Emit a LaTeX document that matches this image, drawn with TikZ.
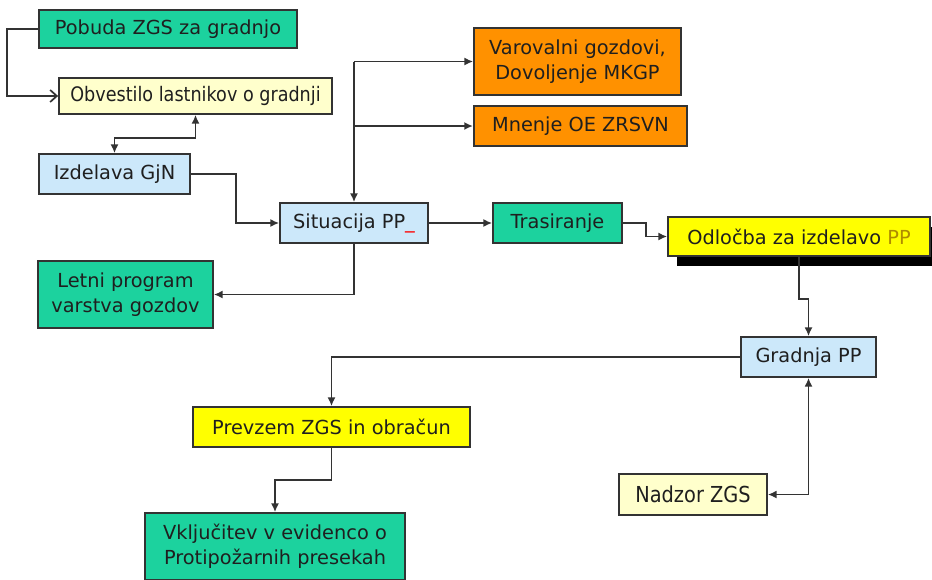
\documentclass[tikz,border=0pt]{standalone}
\usepackage{fontspec}
\setmainfont{DejaVu Sans}
\newfontfamily\narrowfont[FakeStretch=0.88]{DejaVu Sans}
\usetikzlibrary{arrows.meta,shadows}
\definecolor{zgsgreen}{RGB}{28,210,158}
\definecolor{paleblue}{RGB}{204,232,250}
\definecolor{paleyellow}{RGB}{255,255,204}
\definecolor{zgsorange}{RGB}{255,145,0}
\definecolor{zgsyellow}{RGB}{255,255,0}
\definecolor{ppgold}{RGB}{175,140,0}
\definecolor{boxline}{RGB}{51,51,51}

\begin{document}
\begin{tikzpicture}[x=0.75pt, y=-0.75pt,
        >={Latex[length=6.5pt,width=6pt]},
        box/.style={draw=boxline, line width=1.3pt, text=black!88, inner sep=2pt,
            align=center, font=\fontsize{14.5}{18.5}\selectfont},
        link/.style={draw=boxline, line width=1.3pt}]
        \useasboundingbox (0,0) rectangle (932,579);

        \node[box, fill=zgsgreen, minimum width=193.5pt, minimum height=28.5pt] (pobuda) at (168,29) {Pobuda ZGS za gradnjo};
        \node[box, fill=paleyellow, minimum width=204.75pt, minimum height=27pt, font=\narrowfont\fontsize{15}{18}\selectfont] (obvest) at (195.5,96) {Obvestilo lastnikov o gradnji};
        \node[box, fill=paleblue, minimum width=113.25pt, minimum height=30pt] (izdel) at (114.5,174) {Izdelava GjN};
        \node[box, fill=paleblue, minimum width=111pt, minimum height=30pt] (sit) at (354,223) {Situacija PP\textcolor{red}{\_}};
        \node[box, fill=zgsorange, minimum width=155.25pt, minimum height=50.25pt] (varov) at (577.5,61.5) {Varovalni gozdovi,\\Dovoljenje MKGP};
        \node[box, fill=zgsorange, minimum width=160pt, minimum height=30pt] (mnenje) at (580.5,126) {Mnenje OE ZRSVN};
        \node[box, fill=zgsgreen, minimum width=96.75pt, minimum height=30pt] (tras) at (557.5,223) {Trasiranje};
        \node[box, fill=zgsyellow, minimum width=196.5pt, minimum height=29.25pt,
            drop shadow={shadow xshift=7pt, shadow yshift=-7.5pt, fill=black, opacity=1}] (odl) at (799,236.5) {Odločba za izdelavo \textcolor{ppgold}{PP}};
        \node[box, fill=zgsgreen, minimum width=131.25pt, minimum height=50.25pt] (letni) at (125.5,294.5) {Letni program\\varstva gozdov};
        \node[box, fill=paleblue, minimum width=101.25pt, minimum height=30pt] (gradnja) at (808.5,357) {Gradnja PP};
        \node[box, fill=zgsyellow, minimum width=207.75pt, minimum height=30pt] (prevzem) at (331.5,427) {Prevzem ZGS in obračun};
        \node[box, fill=zgsgreen, minimum width=195pt, minimum height=50.25pt] (vkljuc) at (275,546.5) {Vključitev v evidenco o\\Protipožarnih presekah};
        \node[box, fill=paleyellow, minimum width=111pt, minimum height=30.75pt, font=\narrowfont\fontsize{16.5}{19}\selectfont] (nadzor) at (693,494.5) {Nadzor ZGS};

        \draw[link, -{Straight Barb[length=5pt,width=9pt]}] (pobuda.west) -- ++(-31,0) |- (obvest.west);
        \draw[link, <->] (obvest.south) -- ++(0,23) -| (izdel.north);
        \draw[link, ->] (izdel.east) -- ++(45,0) |- (sit.west);
        \coordinate (split) at (sit.north |- varov.west);
        \draw[link, ->] (split) -- (sit.north);
        \draw[link, ->] (split) -- (varov.west);
        \draw[link, ->] (sit.north |- mnenje.west) -- (mnenje.west);
        \draw[link, ->] (sit.east) -- (tras.west);
        \draw[link, ->] (tras.east) -- ++(23,0) |- (odl.west);
        \draw[link, ->] (sit.south) |- (letni.east);
        \draw[link, ->] (odl.south) -- ++(0,42) -| (gradnja.north);
        \draw[link, ->] (gradnja.west) -| (prevzem.north);
        \draw[link, ->] (prevzem.south) -- ++(0,32) -| (vkljuc.north);
        \draw[link, <->] (nadzor.east) -| (gradnja.south);
    \end{tikzpicture}
\end{document}
